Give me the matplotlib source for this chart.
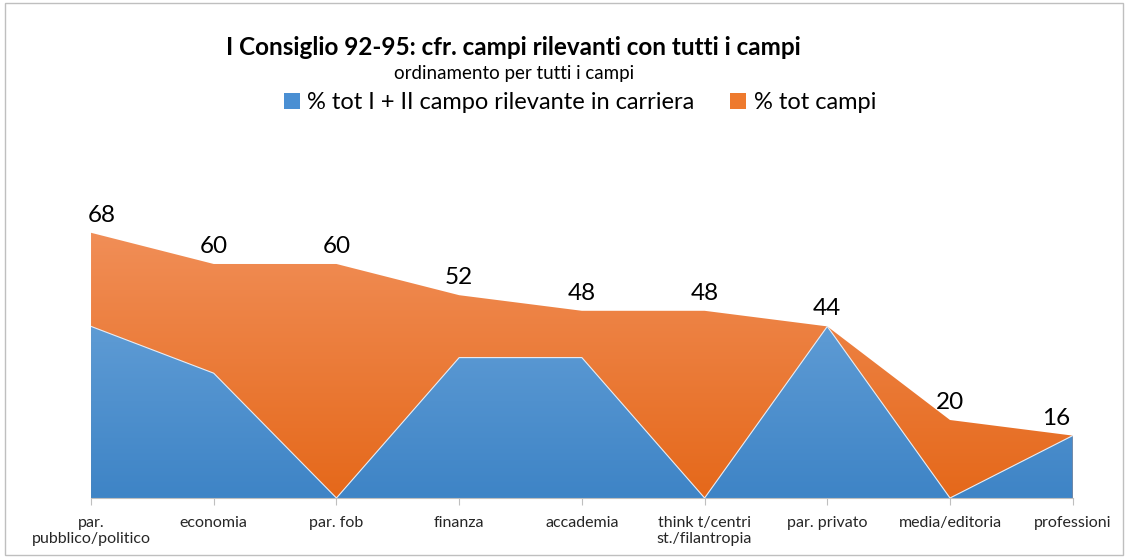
import matplotlib.pyplot as plt
import numpy as np
from matplotlib.colors import LinearSegmentedColormap
from matplotlib.patches import Patch, Rectangle

plt.rcParams['font.family'] = ['Lato', 'DejaVu Sans']

categories = ['par.\npubblico/politico', 'economia', 'par. fob', 'finanza', 'accademia',
              'think t/centri\nst./filantropia', 'par. privato', 'media/editoria', 'professioni']
tot_campi = [68, 60, 60, 52, 48, 48, 44, 20, 16]
rilevante = [44, 32, 0, 36, 36, 0, 44, 0, 16]

YMAX = 80

fig = plt.figure(figsize=(11.28, 5.58), dpi=100)
ax = fig.add_axes([0.0807, 0.1075, 0.951 - 0.0807, 0.5592])

x = np.arange(len(categories))


def gradient_fill(ax, x, y, top, bottom, edge=None):
    poly = ax.fill_between(x, 0, y, facecolor='none', edgecolor='none')
    cmap = LinearSegmentedColormap.from_list('g', [bottom, top])
    grad = np.linspace(0, 1, 256).reshape(-1, 1)
    im = ax.imshow(grad, cmap=cmap, aspect='auto', origin='lower',
                   extent=[x[0], x[-1], 0, YMAX], zorder=poly.get_zorder())
    im.set_clip_path(poly.get_paths()[0], transform=ax.transData)
    if edge:
        ax.plot(x, y, color=edge, lw=0.8, zorder=poly.get_zorder() + 0.1)
    return im


gradient_fill(ax, x, tot_campi, '#F39562', '#E5681A')
gradient_fill(ax, x, rilevante, '#78AEE0', '#3E84C6', edge='#E8EEF6')

n = len(x)
for xi, v in zip(x, tot_campi):
    dx = 8 if xi == 0 else (-12 if xi == n - 1 else 0)
    ax.annotate(str(v), (xi, v), xytext=(dx, 5), textcoords='offset points',
                ha='center', va='bottom', fontsize=17.5, color='black')

ax.set_xlim(x[0], x[-1])
ax.set_ylim(0, YMAX)
ax.set_xticks(x)
ax.set_xticklabels(categories, fontsize=11.5, color='#262626')
ax.set_yticks([])
for s in ['top', 'right', 'left']:
    ax.spines[s].set_visible(False)
ax.spines['bottom'].set_color('#BFBFBF')
ax.tick_params(axis='x', color='#BFBFBF', length=5, pad=8)
ax.patch.set_alpha(0)

fig.text(0.455, 0.914, 'I Consiglio 92-95: cfr. campi rilevanti con tutti i campi',
         ha='center', va='center', fontsize=17.5, fontweight='bold')
fig.text(0.456, 0.868, 'ordinamento per tutti i campi', ha='center', va='center', fontsize=13.5)

handles = [Patch(facecolor='#4A8FD3', edgecolor='none'),
           Patch(facecolor='#EE7A2E', edgecolor='none')]
fig.legend(handles, ['% tot I + II campo rilevante in carriera', '% tot campi'],
           loc='center', bbox_to_anchor=(0.514, 0.816), ncol=2, frameon=False,
           fontsize=17, handlelength=0.7, handleheight=0.7, handletextpad=0.3,
           columnspacing=1.5, borderaxespad=0)

fig.patches.append(Rectangle((0.004, 0.006), 0.992, 0.988, transform=fig.transFigure,
                             fill=False, edgecolor='#BFBFBF', lw=1))

fig.savefig('out.png', dpi=100)
